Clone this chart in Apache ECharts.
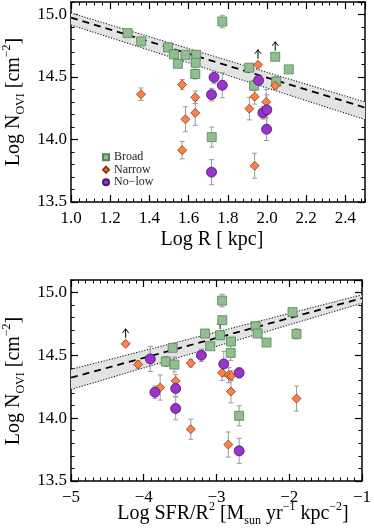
<!DOCTYPE html>
<html>
<head>
<meta charset="utf-8">
<script src="https://cdn.jsdelivr.net/npm/echarts@6/dist/echarts.min.js"></script>
<style>
  html, body { margin: 0; padding: 0; background: #fff; }
  #main { width: 374px; height: 531px; }
</style>
</head>
<body>
<div id="main"></div>
<script>
  // top panel: Log R [kpc]
  var broadR   = [1.289, 1.358, 1.495, 1.525, 1.545, 1.584, 1.639, 1.636, 1.634, 1.772, 1.718, 1.909, 1.934, 2.042, 2.047, 2.111];
  var broadN   = [14.851, 14.785, 14.737, 14.681, 14.606, 14.678, 14.678, 14.614, 14.524, 14.944, 14.019, 14.574, 14.431, 14.662, 14.463, 14.561];
  var broadE   = [0.02, 0.02, 0.02, 0.02, 0.03, 0.02, 0.02, 0.03, 0.04, 0.05, 0.08, 0.03, 0.04, 0, 0.04, 0.02];
  var broadLim = [0, 0, 0, 0, 0, 0, 0, 0, 0, 0, 0, 0, 0, 1, 0, 0];

  var narrowR   = [1.357, 1.567, 1.584, 1.567, 1.634, 1.634, 1.954, 1.937, 1.910, 1.996, 2.042, 1.937];
  var narrowN   = [14.362, 14.439, 14.162, 13.915, 14.338, 14.213, 14.598, 14.343, 14.247, 14.301, 14.431, 13.790];
  var narrowE   = [0.05, 0.04, 0.1, 0.07, 0.05, 0.1, 0, 0.06, 0.09, 0.1, 0.03, 0.1];
  var narrowLim = [0, 0, 0, 0, 0, 0, 1, 0, 0, 0, 0, 0];

  var noLowR   = [1.730, 1.772, 1.717, 1.717, 1.957, 1.979, 1.999, 1.998];
  var noLowN   = [14.497, 14.434, 14.359, 13.739, 14.473, 14.213, 14.237, 14.082];
  var noLowE   = [0.05, 0.1, 0.05, 0.1, 0.04, 0.05, 0.12, 0.09];
  var noLowLim = [0, 0, 0, 0, 0, 0, 0, 0];

  var fitR    = [1.0, 2.5];
  var fitRMid = [14.975, 14.255];
  var fitRUp  = [15.012, 14.300];
  var fitRLo  = [14.916, 14.160];

  // bottom panel: Log SFR/R^2
  var broadS    = [-2.923, -2.919, -3.158, -2.950, -3.602, -3.086, -2.801, -3.697, -3.579, -2.805, -2.462, -2.434, -2.312, -1.955, -1.900, -2.688];
  var broadN2   = [14.936, 14.780, 14.674, 14.660, 14.560, 14.573, 14.610, 14.451, 14.427, 14.520, 14.732, 14.674, 14.602, 14.844, 14.671, 14.019];
  var broadE2   = [0.05, 0.02, 0.02, 0, 0.03, 0.03, 0.02, 0.04, 0.06, 0.06, 0.02, 0.02, 0.02, 0.02, 0.04, 0.08];
  var broadLim2 = [0, 0, 0, 1, 0, 0, 0, 0, 0, 0, 0, 0, 0, 0, 0, 0];

  var narrowS    = [-4.249, -4.077, -3.774, -3.561, -3.353, -3.353, -2.923, -2.833, -2.796, -2.801, -2.837, -1.900];
  var narrowN2   = [14.592, 14.427, 14.244, 14.297, 14.438, 13.912, 14.361, 14.342, 14.337, 14.212, 13.790, 14.156];
  var narrowE2   = [0, 0.03, 0.1, 0.05, 0.03, 0.08, 0.06, 0.06, 0.04, 0.09, 0.1, 0.1];
  var narrowLim2 = [1, 0, 0, 0, 0, 0, 0, 0, 0, 0, 0, 0];

  var noLowS    = [-3.910, -3.846, -3.561, -3.561, -3.208, -2.900, -2.688, -2.688];
  var noLowN2   = [14.472, 14.207, 14.236, 14.077, 14.501, 14.432, 14.361, 13.740];
  var noLowE2   = [0.1, 0.05, 0.06, 0.09, 0.05, 0.1, 0.04, 0.1];
  var noLowLim2 = [0, 0, 0, 0, 0, 0, 0, 0];

  var fitS    = [-5, -1];
  var fitSMid = [14.322, 14.955];
  var fitSUp  = [14.389, 14.982];
  var fitSLo  = [14.229, 14.915];

  var FONT = "'Liberation Serif', 'DejaVu Serif', serif";
  var groups = [
    { name: 'Broad',  symbol: 'rect',    size: 9,  fill: '#8fbf8f', edge: '#5a805a' },
    { name: 'Narrow', symbol: 'diamond', size: 9,  fill: '#ff7f4a', edge: '#8a3a14' },
    { name: 'No−low', symbol: 'circle',  size: 10, fill: '#9a33cc', edge: '#4d1466' }
  ];

  function zip() {
    var arrs = arguments;
    return arrs[0].map(function (v, i) {
      return Array.prototype.map.call(arrs, function (a) { return a[i]; });
    });
  }
  function minus(v, d) {
    var s = d == null ? String(v) : v.toFixed(d);
    return s.replace('-', '−');
  }

  // 4 x axes + 4 y axes per panel: major/minor on each side
  function xAxes(gi, min, max, step, minor, digits) {
    var base = { gridIndex: gi, type: 'value', min: min, max: max, splitLine: { show: false } };
    return [
      Object.assign({}, base, { position: 'bottom', interval: step,
        axisLine: { onZero: false, lineStyle: { color: '#000', width: 1.5 } },
        axisTick: { inside: true, length: 7, lineStyle: { color: '#000', width: 1.2 } },
        axisLabel: { showMaxLabel: digits > 0 ? false : true, margin: 8, color: '#000', fontFamily: FONT, fontSize: 17,
          formatter: function (v) { return minus(v, digits); } } }),
      Object.assign({}, base, { position: 'bottom', interval: minor,
        axisLine: { show: false }, axisLabel: { show: false },
        axisTick: { inside: true, length: 3.5, lineStyle: { color: '#000', width: 1 } } }),
      Object.assign({}, base, { position: 'top', interval: step,
        axisLine: { onZero: false, lineStyle: { color: '#000', width: 1.5 } },
        axisTick: { inside: true, length: 7, lineStyle: { color: '#000', width: 1.2 } },
        axisLabel: { show: false } }),
      Object.assign({}, base, { position: 'top', interval: minor,
        axisLine: { show: false }, axisLabel: { show: false },
        axisTick: { inside: true, length: 3.5, lineStyle: { color: '#000', width: 1 } } })
    ];
  }
  function yAxes(gi) {
    var base = { gridIndex: gi, type: 'value', min: 13.5, max: 15.1, splitLine: { show: false } };
    return [
      Object.assign({}, base, { position: 'left', interval: 0.5,
        axisLine: { onZero: false, lineStyle: { color: '#000', width: 1.5 } },
        axisTick: { inside: true, length: 7, lineStyle: { color: '#000', width: 1.2 } },
        axisLabel: { showMaxLabel: false, margin: 4, color: '#000', fontFamily: FONT, fontSize: 17,
          formatter: function (v) { return v.toFixed(1); } } }),
      Object.assign({}, base, { position: 'left', interval: 0.1,
        axisLine: { show: false }, axisLabel: { show: false },
        axisTick: { inside: true, length: 3.5, lineStyle: { color: '#000', width: 1 } } }),
      Object.assign({}, base, { position: 'right', interval: 0.5,
        axisLine: { onZero: false, lineStyle: { color: '#000', width: 1.5 } },
        axisTick: { inside: true, length: 7, lineStyle: { color: '#000', width: 1.2 } },
        axisLabel: { show: false } }),
      Object.assign({}, base, { position: 'right', interval: 0.1,
        axisLine: { show: false }, axisLabel: { show: false },
        axisTick: { inside: true, length: 3.5, lineStyle: { color: '#000', width: 1 } } })
    ];
  }

  function errRender(params, api) {
    var x = api.value(0), y = api.value(1), e = api.value(2);
    if (!e) return null;
    var hi = api.coord([x, y + e]), lo = api.coord([x, y - e]);
    var st = { stroke: '#9a9a9a', lineWidth: 1 };
    return { type: 'group', children: [
      { type: 'line', shape: { x1: hi[0], y1: hi[1], x2: lo[0], y2: lo[1] }, style: st },
      { type: 'line', shape: { x1: hi[0] - 2.5, y1: hi[1], x2: hi[0] + 2.5, y2: hi[1] }, style: st },
      { type: 'line', shape: { x1: lo[0] - 2.5, y1: lo[1], x2: lo[0] + 2.5, y2: lo[1] }, style: st }
    ] };
  }
  function limRender(params, api) {
    if (!api.value(2)) return null;
    var p = api.coord([api.value(0), api.value(1)]);
    var st = { stroke: '#000', lineWidth: 1, fill: null };
    var top = p[1] - 15;
    return { type: 'group', children: [
      { type: 'line', shape: { x1: p[0], y1: p[1] - 6, x2: p[0], y2: top }, style: st },
      { type: 'polyline', shape: { points: [[p[0] - 3, top + 4], [p[0], top], [p[0] + 3, top + 4]] }, style: st }
    ] };
  }
  function bandRender(xs, up, lo) {
    return function (params, api) {
      var pts = [
        api.coord([xs[0], up[0]]), api.coord([xs[1], up[1]]),
        api.coord([xs[1], lo[1]]), api.coord([xs[0], lo[0]])
      ];
      return { type: 'polygon', shape: { points: pts }, style: { fill: '#e3e3e3' } };
    };
  }

  function panelSeries(ax, sets, fx, fm, fu, fl) {
    var out = [];
    out.push({ type: 'custom', xAxisIndex: ax, yAxisIndex: ax, silent: true, z: 1,
      renderItem: bandRender(fx, fu, fl), data: [[fx[0], fm[0]]] });
    out.push({ type: 'line', xAxisIndex: ax, yAxisIndex: ax, silent: true, z: 2, symbol: 'none',
      data: zip(fx, fu), lineStyle: { color: '#222', width: 1.1, type: [1.2, 1.6] } });
    out.push({ type: 'line', xAxisIndex: ax, yAxisIndex: ax, silent: true, z: 2, symbol: 'none',
      data: zip(fx, fl), lineStyle: { color: '#222', width: 1.1, type: [1.2, 1.6] } });
    out.push({ type: 'line', xAxisIndex: ax, yAxisIndex: ax, silent: true, z: 2, symbol: 'none',
      data: zip(fx, fm), lineStyle: { color: '#000', width: 1.8, type: [7, 5] } });
    sets.forEach(function (s) {
      out.push({ type: 'custom', xAxisIndex: ax, yAxisIndex: ax, silent: true, z: 3,
        renderItem: errRender, encode: { x: 0, y: 1 }, data: zip(s.x, s.y, s.e) });
    });
    sets.forEach(function (s) {
      out.push({ type: 'custom', xAxisIndex: ax, yAxisIndex: ax, silent: true, z: 3,
        renderItem: limRender, encode: { x: 0, y: 1 }, data: zip(s.x, s.y, s.lim) });
    });
    sets.forEach(function (s, i) {
      var g = groups[i];
      out.push({ name: g.name, type: 'scatter', xAxisIndex: ax, yAxisIndex: ax, z: 4,
        symbol: g.symbol, symbolSize: g.size, data: zip(s.x, s.y),
        itemStyle: { color: g.fill, borderColor: g.edge, borderWidth: 0.8, opacity: 1 } });
    });
    return out;
  }

  var topSets = [
    { x: broadR, y: broadN, e: broadE, lim: broadLim },
    { x: narrowR, y: narrowN, e: narrowE, lim: narrowLim },
    { x: noLowR, y: noLowN, e: noLowE, lim: noLowLim }
  ];
  var botSets = [
    { x: broadS, y: broadN2, e: broadE2, lim: broadLim2 },
    { x: narrowS, y: narrowN2, e: narrowE2, lim: narrowLim2 },
    { x: noLowS, y: noLowN2, e: noLowE2, lim: noLowLim2 }
  ];

  var rich = {
    m:   { fontFamily: FONT, fontSize: 20, lineHeight: 26, fill: '#000', color: '#000' },
    sub: { fontFamily: FONT, fontSize: 12, lineHeight: 12, verticalAlign: 'bottom', fill: '#000', color: '#000' },
    sup: { fontFamily: FONT, fontSize: 12, lineHeight: 12, verticalAlign: 'top', fill: '#000', color: '#000' }
  };
  function title(x, y, text, rot) {
    return { type: 'text', x: x, y: y, rotation: rot || 0, silent: true,
      style: { text: text, rich: rich, align: 'center', verticalAlign: 'middle', fill: '#000' } };
  }

  var chart = echarts.init(document.getElementById('main'), null, { renderer: 'canvas' });
  chart.setOption({
    animation: false,
    backgroundColor: '#fff',
    grid: [
      { left: 71, top: 2, width: 294, height: 200 },
      { left: 71, top: 280, width: 294, height: 201 }
    ],
    xAxis: xAxes(0, 1.0, 2.5, 0.2, 0.04, 1).concat(xAxes(1, -5, -1, 1, 0.1, null)),
    yAxis: yAxes(0).concat(yAxes(1)),
    legend: {
      orient: 'vertical', left: 97, top: 146, itemWidth: 6, itemHeight: 6, itemGap: 0,
      textStyle: { fontFamily: FONT, fontSize: 12, lineHeight: 12.5, color: '#222' },
      data: [
        { name: 'Broad', icon: 'rect' },
        { name: 'Narrow', icon: 'diamond' },
        { name: 'No−low', icon: 'circle' }
      ]
    },
    graphic: [
      title(212, 240, '{m|Log R [ kpc]}'),
      title(14, 102, '{m|Log N}{sub|OVI}{m| [cm}{sup|−2}{m|]}', Math.PI / 2),
      title(233, 514, '{m|Log SFR/R}{sup|2}{m| [M}{sub|sun}{m| yr}{sup|−1}{m| kpc}{sup|−2}{m|]}'),
      title(14, 381, '{m|Log N}{sub|OVI}{m| [cm}{sup|−2}{m|]}', Math.PI / 2)
    ],
    series: panelSeries(0, topSets, fitR, fitRMid, fitRUp, fitRLo)
      .concat(panelSeries(4, botSets, fitS, fitSMid, fitSUp, fitSLo))
  });
</script>
</body>
</html>
